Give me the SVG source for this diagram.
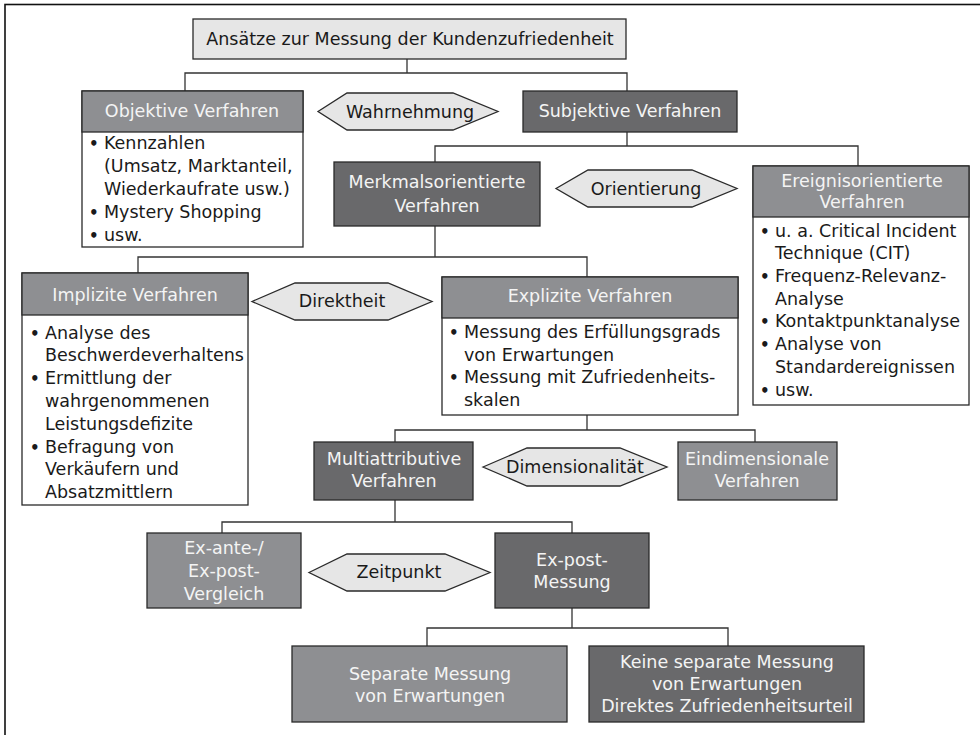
<svg xmlns="http://www.w3.org/2000/svg" width="980" height="735" viewBox="0 0 980 735">
<style>
text{font-family:"DejaVu Sans","Open Sans",sans-serif;font-size:17.5px}
.c{text-anchor:middle}
.w{fill:#f4f4f4}
.k{fill:#1a1a1a}
.b{fill:#1a1a1a;font-weight:bold;font-size:15px}
.light{fill:#e6e6e6;stroke:#2a2a2a;stroke-width:1.3}
.mid{fill:#8e8f92;stroke:#2a2a2a;stroke-width:1.3}
.dark{fill:#69696b;stroke:#2a2a2a;stroke-width:1.3}
.box{fill:#ffffff;stroke:#2a2a2a;stroke-width:1.3}
.hdr{fill:#8e8f92;stroke:#2a2a2a;stroke-width:1.3}
.con{fill:none;stroke:#333;stroke-width:1.3}
</style>
<rect x="0" y="0" width="980" height="735" fill="#ffffff"/>
<rect x="5" y="4.5" width="1000" height="760" fill="none" stroke="#111" stroke-width="1.6"/>

<g id="connectors">
<path class="con" d="M407,59 V73 M185,91 V73 H627 V91"/>
<path class="con" d="M627,132 V146 M435,162 V146 H858 V166"/>
<path class="con" d="M435,226 V257 M138,273 V257 H587 V277"/>
<path class="con" d="M587,415 V430 M395,442 V430 H755 V442"/>
<path class="con" d="M395,500 V522 M222,533 V522 H572 V533"/>
<path class="con" d="M572,608 V628 M427,646 V628 H728 V646"/>
</g>

<g id="root">
<rect class="light" x="193" y="19" width="433" height="40"/>
<text class="c k" x="410" y="45">Ansätze zur Messung der Kundenzufriedenheit</text>
</g>

<g id="objektiv">
<rect class="box" x="82" y="91" width="221" height="156"/>
<rect class="hdr" x="82" y="91" width="221" height="41"/>
<text class="c w" x="192" y="117">Objektive Verfahren</text>
<text class="b" x="89" y="149">•</text><text class="k" x="104" y="149">Kennzahlen</text>
<text class="k" x="104" y="172">(Umsatz, Marktanteil,</text>
<text class="k" x="104" y="195">Wiederkaufrate usw.)</text>
<text class="b" x="89" y="218">•</text><text class="k" x="104" y="218">Mystery Shopping</text>
<text class="b" x="89" y="241">•</text><text class="k" x="104" y="241">usw.</text>
</g>

<g id="wahrnehmung">
<polygon class="light" points="318,111.5 347,93 453,93 498,111.5 453,130 347,130"/>
<text class="c k" x="410" y="118">Wahrnehmung</text>
</g>

<g id="subjektiv">
<rect class="dark" x="523" y="91" width="214" height="41"/>
<text class="c w" x="630" y="117">Subjektive Verfahren</text>
</g>

<g id="merkmal">
<rect class="dark" x="334" y="162" width="206" height="64"/>
<text class="c w" x="437" y="188">Merkmalsorientierte</text>
<text class="c w" x="437" y="212">Verfahren</text>
</g>

<g id="orientierung">
<polygon class="light" points="556,188.5 588,170 692,170 737,188.5 692,207 588,207"/>
<text class="c k" x="646" y="195">Orientierung</text>
</g>

<g id="ereignis">
<rect class="box" x="753" y="166" width="216" height="239"/>
<rect class="hdr" x="753" y="166" width="216" height="51"/>
<text class="c w" x="862" y="187">Ereignisorientierte</text>
<text class="c w" x="862" y="208">Verfahren</text>
<text class="b" x="760" y="237">•</text><text class="k" x="775" y="237">u. a. Critical Incident</text>
<text class="k" x="775" y="259">Technique (CIT)</text>
<text class="b" x="760" y="282">•</text><text class="k" x="775" y="282">Frequenz-Relevanz-</text>
<text class="k" x="775" y="305">Analyse</text>
<text class="b" x="760" y="327">•</text><text class="k" x="775" y="327">Kontaktpunktanalyse</text>
<text class="b" x="760" y="350">•</text><text class="k" x="775" y="350">Analyse von</text>
<text class="k" x="775" y="373">Standardereignissen</text>
<text class="b" x="760" y="396">•</text><text class="k" x="775" y="396">usw.</text>
</g>

<g id="implizit">
<rect class="box" x="22" y="273" width="226" height="232"/>
<rect class="hdr" x="22" y="273" width="226" height="42"/>
<text class="c w" x="135" y="301">Implizite Verfahren</text>
<text class="b" x="30" y="339">•</text><text class="k" x="45" y="339">Analyse des</text>
<text class="k" x="45" y="361">Beschwerdeverhaltens</text>
<text class="b" x="30" y="384">•</text><text class="k" x="45" y="384">Ermittlung der</text>
<text class="k" x="45" y="407">wahrgenommenen</text>
<text class="k" x="45" y="430">Leistungsdefizite</text>
<text class="b" x="30" y="453">•</text><text class="k" x="45" y="453">Befragung von</text>
<text class="k" x="45" y="475">Verkäufern und</text>
<text class="k" x="45" y="498">Absatzmittlern</text>
</g>

<g id="direktheit">
<polygon class="light" points="252,301.5 295,283 388,283 432,301.5 388,320 295,320"/>
<text class="c k" x="342" y="307">Direktheit</text>
</g>

<g id="explizit">
<rect class="box" x="442" y="277" width="296" height="138"/>
<rect class="hdr" x="442" y="277" width="296" height="41"/>
<text class="c w" x="590" y="302">Explizite Verfahren</text>
<text class="b" x="449" y="338">•</text><text class="k" x="464" y="338">Messung des Erfüllungsgrads</text>
<text class="k" x="464" y="361">von Erwartungen</text>
<text class="b" x="449" y="383">•</text><text class="k" x="464" y="383">Messung mit Zufriedenheits-</text>
<text class="k" x="464" y="406">skalen</text>
</g>

<g id="multi">
<rect class="dark" x="314" y="442" width="159" height="58"/>
<text class="c w" x="394" y="465">Multiattributive</text>
<text class="c w" x="394" y="487">Verfahren</text>
</g>

<g id="dimensionalitaet">
<polygon class="light" points="483,467 527,448 620,448 667,467 620,486 527,486"/>
<text class="c k" x="575" y="473">Dimensionalität</text>
</g>

<g id="eindimensional">
<rect class="mid" x="678" y="442" width="159" height="58"/>
<text class="c w" x="757" y="465">Eindimensionale</text>
<text class="c w" x="757" y="487">Verfahren</text>
</g>

<g id="exante">
<rect class="mid" x="147" y="533" width="154" height="75"/>
<text class="c w" x="224" y="554">Ex-ante-/</text>
<text class="c w" x="224" y="577">Ex-post-</text>
<text class="c w" x="224" y="600">Vergleich</text>
</g>

<g id="zeitpunkt">
<polygon class="light" points="309,572.5 347,554 445,554 490,572.5 445,591 347,591"/>
<text class="c k" x="399" y="578">Zeitpunkt</text>
</g>

<g id="expost">
<rect class="dark" x="495" y="533" width="154" height="75"/>
<text class="c w" x="572" y="566">Ex-post-</text>
<text class="c w" x="572" y="588">Messung</text>
</g>

<g id="separat">
<rect class="mid" x="292" y="646" width="275" height="76"/>
<text class="c w" x="430" y="680">Separate Messung</text>
<text class="c w" x="430" y="702">von Erwartungen</text>
</g>

<g id="keine">
<rect class="dark" x="589" y="646" width="275" height="76"/>
<text class="c w" x="727" y="668">Keine separate Messung</text>
<text class="c w" x="727" y="690">von Erwartungen</text>
<text class="c w" x="727" y="712">Direktes Zufriedenheitsurteil</text>
</g>
</svg>
